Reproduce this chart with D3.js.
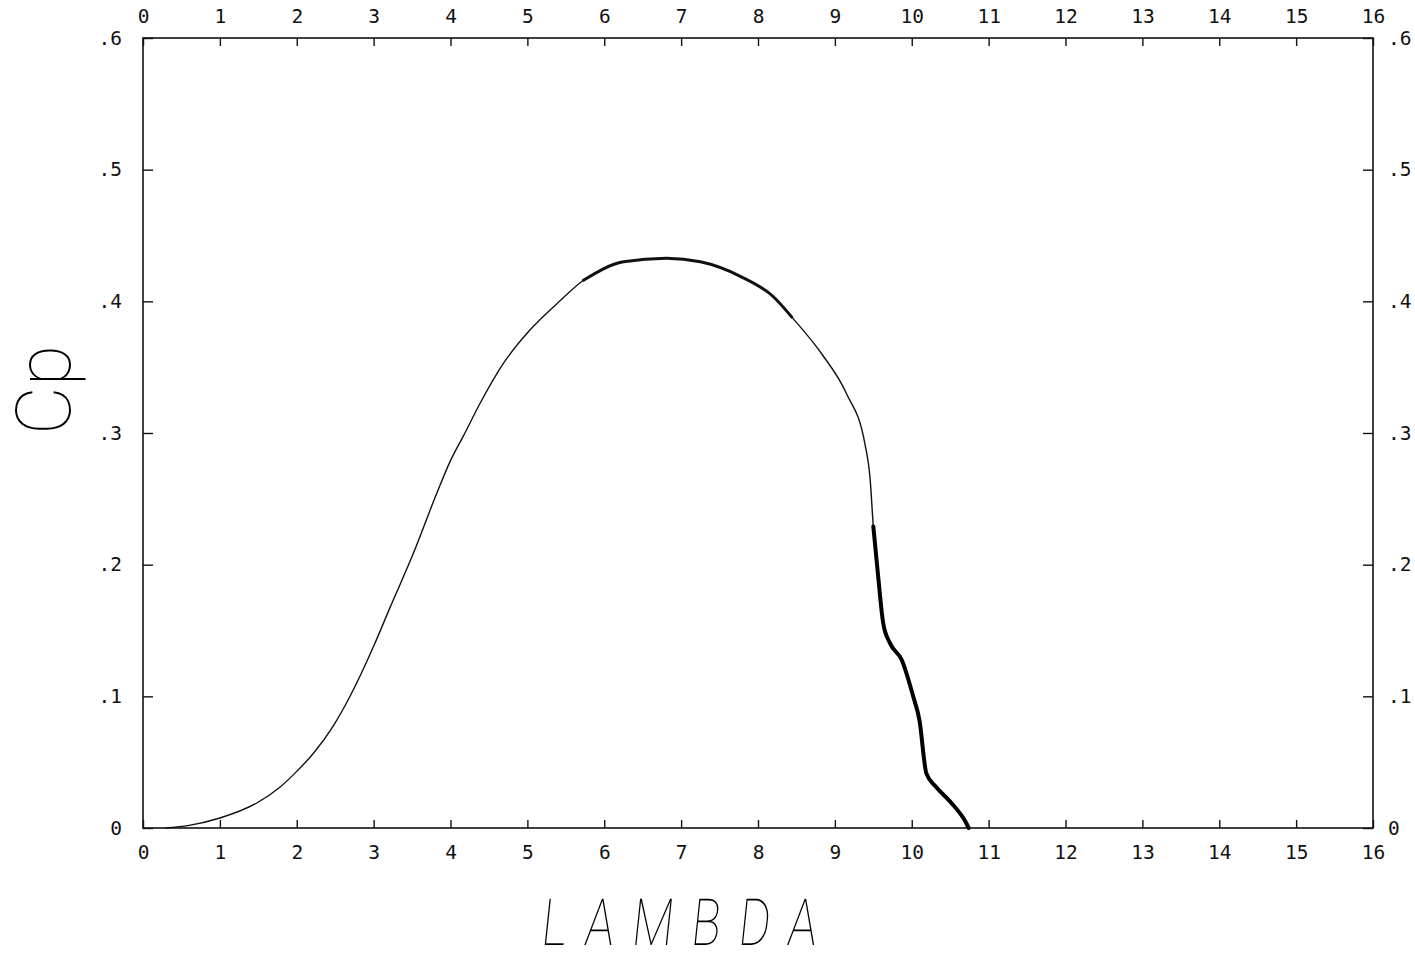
<!DOCTYPE html>
<html>
<head>
<meta charset="utf-8">
<script src="https://cdn.jsdelivr.net/npm/d3@7"></script>
<style>
  html, body { margin: 0; padding: 0; background: #fff; }
  svg { display: block; }
  .tick text { font-family: "DejaVu Sans Mono", "Liberation Mono", monospace; font-size: 19.5px; fill: #111; }
</style>
</head>
<body>
<svg id="chart" width="1415" height="955"></svg>
<script>
// ---- data ----
const lambda = [0.29, 0.6, 0.99, 1.48, 1.78, 2.0, 2.22, 2.48, 2.69, 3.0, 3.21, 3.52, 3.82, 4.0, 4.17, 4.38, 4.69, 5.03, 5.38, 5.73, 6.25, 6.81, 7.25, 7.77, 8.2, 8.44, 8.83, 9.15, 9.39, 9.46, 9.5, 9.56, 9.63, 9.72, 9.87, 10.02, 10.1, 10.19, 10.32, 10.5, 10.71, 10.74];
const cp     = [0.0, 0.002, 0.0074, 0.019, 0.031, 0.043, 0.057, 0.078, 0.0997, 0.138, 0.167, 0.209, 0.254, 0.279, 0.298, 0.322, 0.353, 0.378, 0.398, 0.416, 0.430, 0.4327, 0.430, 0.419, 0.4035, 0.388, 0.360, 0.330, 0.292, 0.264, 0.229, 0.193, 0.155, 0.140, 0.1276, 0.0997, 0.082, 0.0415, 0.031, 0.020, 0.0036, 0.0];
const xTicks = d3.range(0, 17);
const yTicks = [0, 0.1, 0.2, 0.3, 0.4, 0.5, 0.6];
const yTickLabels = ["0", ".1", ".2", ".3", ".4", ".5", ".6"];
const heavyPeak = [5.73, 8.44];     // lambda span drawn with a heavier pen
const heavyTail = [9.5, 10.74];     // lambda span drawn with the heaviest pen
const xTitle = "LAMBDA";
const yTitle = "Cp";

// ---- layout ----
const L = 143, R = 1373, T = 38, B = 828;
const svg = d3.select("#chart");
const x = d3.scaleLinear().domain([0, 16]).range([L, R]);
const y = d3.scaleLinear().domain([0, 0.6]).range([B, T]);
const fmtY = v => yTickLabels[yTicks.indexOf(v)];

function styleAxis(g) {
  g.select(".domain").remove();
  g.selectAll(".tick line").attr("stroke", "#111").attr("stroke-width", 1.4);
}

svg.append("g").attr("transform", `translate(0,${B})`)
  .call(d3.axisBottom(x).tickValues(xTicks).tickFormat(d3.format("d")).tickSizeInner(-8).tickSizeOuter(0).tickPadding(17))
  .call(styleAxis);
svg.append("g").attr("transform", `translate(0,${T})`)
  .call(d3.axisTop(x).tickValues(xTicks).tickFormat(d3.format("d")).tickSizeInner(-8).tickSizeOuter(0).tickPadding(15))
  .call(styleAxis);
svg.append("g").attr("transform", `translate(${L},0)`)
  .call(d3.axisLeft(y).tickValues(yTicks).tickFormat(fmtY).tickSizeInner(-10).tickSizeOuter(0).tickPadding(21))
  .call(styleAxis);
svg.append("g").attr("transform", `translate(${R},0)`)
  .call(d3.axisRight(y).tickValues(yTicks).tickFormat(fmtY).tickSizeInner(-10).tickSizeOuter(0).tickPadding(15))
  .call(styleAxis);

// frame
svg.append("rect").attr("x", L).attr("y", T).attr("width", R - L).attr("height", B - T)
  .attr("fill", "none").attr("stroke", "#111").attr("stroke-width", 1.6);

// curve
const pts = lambda.map((l, i) => ({ l, c: cp[i] }));
const line = d3.line().x(d => x(d.l)).y(d => y(d.c)).curve(d3.curveMonotoneX);

svg.append("path").datum(pts).attr("d", line)
  .attr("fill", "none").attr("stroke", "#111").attr("stroke-width", 1.4);
svg.append("path").datum(pts.filter(d => d.l >= heavyPeak[0] && d.l <= heavyPeak[1])).attr("d", line)
  .attr("fill", "none").attr("stroke", "#111").attr("stroke-width", 3).attr("stroke-linecap", "round");
svg.append("path").datum(pts.filter(d => d.l >= heavyTail[0] && d.l <= heavyTail[1])).attr("d", line)
  .attr("fill", "none").attr("stroke", "#000").attr("stroke-width", 4).attr("stroke-linecap", "round");

// titles
svg.append("g").attr("transform", "translate(540,945) skewX(-6) scale(0.74,1)")
  .append("text")
  .attr("x", 0).attr("y", 0)
  .attr("textLength", 275 / 0.74).attr("lengthAdjust", "spacing")
  .style("font-family", "Roboto, 'DejaVu Sans', sans-serif")
  .style("font-weight", 100)
  .style("font-size", "65px")
  .text(xTitle);

svg.append("g").attr("transform", "translate(70,435) rotate(-90)")
  .append("text")
  .attr("x", 0).attr("y", 0)
  .attr("textLength", 90).attr("lengthAdjust", "spacingAndGlyphs")
  .style("font-family", "Roboto, 'DejaVu Sans', sans-serif")
  .style("font-weight", 100)
  .style("font-size", "76px")
  .text(yTitle);
</script>
</body>
</html>
